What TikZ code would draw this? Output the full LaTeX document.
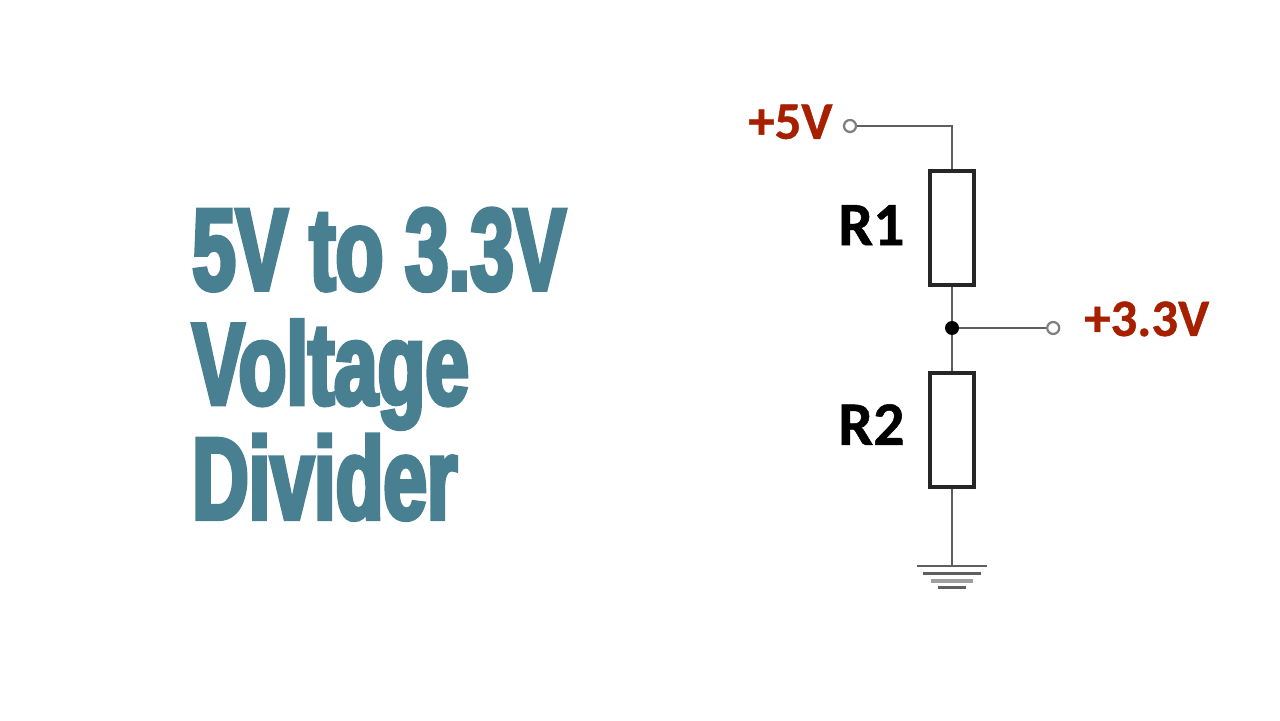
\documentclass[tikz,border=0pt]{standalone}
\usepackage{fontspec}
\setmainfont[BoldFeatures={FakeBold=0.8}]{Carlito}
\newfontfamily\titlefont[FakeStretch=0.67,FakeBold=3.5]{Liberation Sans Bold}
\usepackage{tikz}
\usetikzlibrary{arrows}
\definecolor{titleblue}{RGB}{72,128,146}
\definecolor{voltred}{RGB}{166,32,0}
\definecolor{wiregray}{RGB}{95,95,95}
\tikzset{
	wire/.style={draw=wiregray,line width=1.9pt},
	terminal/.style={circle,draw=wiregray!80,fill=white,line width=1.6pt,inner sep=0pt,minimum size=0.3cm},
	junction/.style={circle,fill=black,inner sep=0pt,minimum size=0.35cm},
	resistor/.style={rectangle,draw=black!85,fill=white,line width=2.6pt,inner sep=0pt,minimum width=1.1cm,minimum height=2.85cm},
	volt/.style={text=voltred,font=\fontsize{37.5}{45}\selectfont\bfseries},
	part/.style={text=black,font=\fontsize{44}{52}\selectfont\bfseries}
}
\begin{document}
\begin{tikzpicture}
	\useasboundingbox (0,0) rectangle (32,18);
	\node[anchor=base west,align=left,text=titleblue,inner sep=0pt,font=\fontsize{83}{81.5}\titlefont] (title) at (4.8,5.025)
	{5V to 3.3V\\Voltage\\Divider};
	\node[resistor] (r1) at (23.8,12.3){};
	\node[junction] (mid) at (23.8,9.8){};
	\node[terminal] (in) at (21.25,14.85){};
	\node[terminal] (out) at (26.33,9.8){};
	\node[resistor] (r2) at (23.8,7.25){};
	\coordinate (gnd) at (23.8,3.85);
	\draw[wire](in)-|(r1);
	\draw[wire](r1)--(mid)--(r2);
	\draw[wire](mid)--(out);
	\draw[wire](r2)--(gnd);
	\draw[wire](22.92,3.85)--(24.68,3.85);
	\draw[wire](23.08,3.67)--(24.52,3.67);
	\draw[wire,draw=wiregray!60,line width=2.6pt](23.28,3.47)--(24.33,3.47);
	\draw[wire](23.45,3.32)--(24.15,3.32);
	\node[volt,anchor=base east,inner sep=0pt] (five) at (20.82,14.53){+5V};
	\node[volt,anchor=base west,inner sep=0pt] (three) at (27.1,9.6){+3.3V};
	\node[part,anchor=base east,inner sep=0pt] (lab1) at (22.62,11.87){R1};
	\node[part,anchor=base east,inner sep=0pt] (lab2) at (22.62,6.88){R2};
\end{tikzpicture}
\end{document}
